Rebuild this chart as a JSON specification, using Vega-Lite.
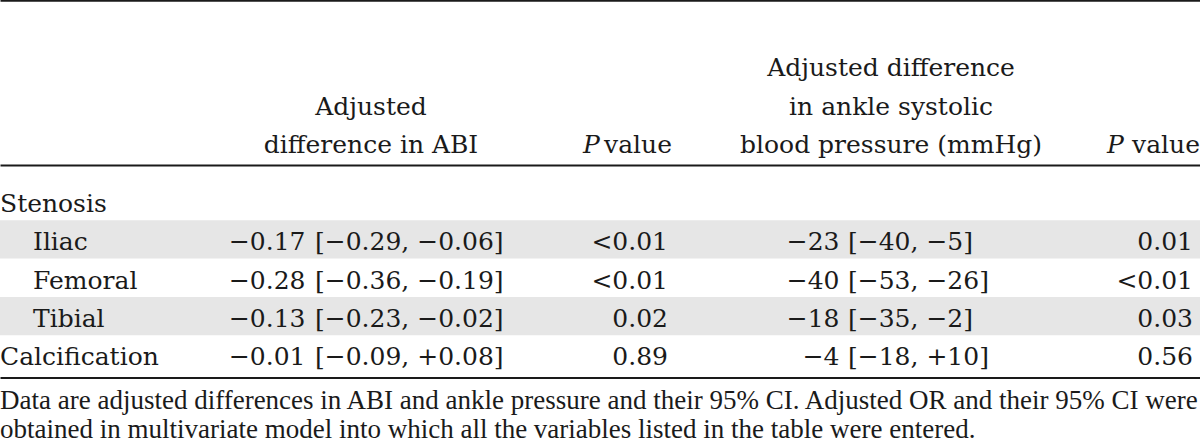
{
  "$schema": "https://vega.github.io/schema/vega-lite/v6.json",
  "padding": 0,
  "autosize": {"type": "pad"},
  "bounds": "flush",
  "spacing": 0,
  "background": "white",
  "config": {
    "view": {"stroke": null},
    "text": {"font": "DejaVu Serif", "fontSize": 25, "color": "#1a1a1a"}
  },
  "title": {
    "text": [
      "Data are adjusted differences in ABI and ankle pressure and their 95% CI. Adjusted OR and their 95% CI were",
      "obtained in multivariate model into which all the variables listed in the table were entered."
    ],
    "orient": "bottom",
    "anchor": "start",
    "frame": "bounds",
    "font": "Liberation Serif",
    "fontSize": 27,
    "fontWeight": "normal",
    "color": "#1a1a1a",
    "lineHeight": 29,
    "offset": 10
  },
  "datasets": {
    "header": [
      {"col": "abi", "line": 2, "text": "Adjusted"},
      {"col": "abi", "line": 3, "text": "difference in ABI"},
      {"col": "p_abi", "line": 3, "symbol": "P", "text": "value"},
      {"col": "asbp", "line": 1, "text": "Adjusted difference"},
      {"col": "asbp", "line": 2, "text": "in ankle systolic"},
      {"col": "asbp", "line": 3, "text": "blood pressure (mmHg)"},
      {"col": "p_asbp", "line": 3, "symbol": "P", "text": "value"}
    ],
    "table": [
      {"row": "Stenosis", "level": "group"},
      {"row": "Iliac", "level": "sub", "abi": "−0.17", "abi_ci": "[−0.29, −0.06]", "p_abi": "<0.01", "asbp": "−23", "asbp_ci": "[−40, −5]", "p_asbp": "0.01"},
      {"row": "Femoral", "level": "sub", "abi": "−0.28", "abi_ci": "[−0.36, −0.19]", "p_abi": "<0.01", "asbp": "−40", "asbp_ci": "[−53, −26]", "p_asbp": "<0.01"},
      {"row": "Tibial", "level": "sub", "abi": "−0.13", "abi_ci": "[−0.23, −0.02]", "p_abi": "0.02", "asbp": "−18", "asbp_ci": "[−35, −2]", "p_asbp": "0.03"},
      {"row": "Calcification", "level": "group", "abi": "−0.01", "abi_ci": "[−0.09, +0.08]", "p_abi": "0.89", "asbp": "−4", "asbp_ci": "[−18, +10]", "p_asbp": "0.56"}
    ]
  },
  "vconcat": [
    {
      "width": 1200,
      "height": 165,
      "data": {"name": "header"},
      "layer": [
        {
          "transform": [{"filter": "datum.col == 'abi' || datum.col == 'asbp'"}],
          "mark": {"type": "text", "align": "center", "baseline": "alphabetic"},
          "encoding": {
            "x": {"field": "col", "type": "nominal", "scale": {"type": "point", "domain": ["abi", "asbp"], "padding": 0.6538, "align": 0.5456},
                  "axis": {"orient": "top", "domain": true, "domainColor": "#1a1a1a", "domainWidth": 2.5, "labels": false, "ticks": false, "grid": false, "title": null}},
            "y": {"field": "line", "type": "ordinal", "scale": {"type": "point", "domain": [1, 2, 3], "range": [76, 153], "padding": 0}, "axis": null},
            "text": {"field": "text"}
          }
        },
        {
          "transform": [{"filter": "isValid(datum.symbol)"}],
          "mark": {"type": "text", "align": "left", "baseline": "alphabetic", "fontStyle": "italic"},
          "encoding": {
            "x": {"field": "col", "type": "nominal", "scale": {"type": "point", "domain": ["p_abi", "p_asbp"], "range": [583, 1107], "padding": 0}, "axis": null},
            "y": {"field": "line", "type": "ordinal", "scale": {"type": "point", "domain": [1, 2, 3], "range": [76, 153], "padding": 0}, "axis": null},
            "text": {"field": "symbol"}
          }
        },
        {
          "transform": [{"filter": "isValid(datum.symbol)"}],
          "mark": {"type": "text", "align": "right", "baseline": "alphabetic"},
          "encoding": {
            "x": {"field": "col", "type": "nominal", "scale": {"type": "point", "domain": ["p_abi", "p_asbp"], "padding": 0.6364, "align": 1},
                  "axis": {"orient": "bottom", "domain": true, "domainColor": "#1a1a1a", "domainWidth": 2, "labels": false, "ticks": false, "grid": false, "title": null}},
            "y": {"field": "line", "type": "ordinal", "scale": {"type": "point", "domain": [1, 2, 3], "range": [76, 153], "padding": 0}, "axis": null},
            "text": {"field": "text"}
          }
        }
      ],
      "resolve": {"scale": {"x": "independent"}, "axis": {"x": "independent"}}
    },
    {
      "width": 1200,
      "height": 212.5,
      "data": {"name": "table"},
      "layer": [
        {
          "transform": [{"filter": "datum.row == 'Iliac' || datum.row == 'Tibial'"}],
          "mark": {"type": "rect", "color": "#e6e6e6"},
          "encoding": {
            "y": {"field": "row", "type": "nominal", "scale": {"type": "band", "domain": ["Stenosis", "Iliac", "Femoral", "Tibial", "Calcification"], "range": [17, 208.5], "padding": 0}, "axis": null}
          }
        },
        {
          "mark": {"type": "text", "align": "left", "baseline": "alphabetic"},
          "encoding": {
            "x": {"field": "level", "type": "nominal", "scale": {"type": "point", "domain": ["group", "sub"], "range": [0, 33], "padding": 0}, "axis": null},
            "y": {"field": "row", "type": "nominal", "bandPosition": 0.785, "scale": {"type": "band", "domain": ["Stenosis", "Iliac", "Femoral", "Tibial", "Calcification"], "range": [17, 208.5], "padding": 0}, "axis": null},
            "text": {"field": "row"}
          }
        },
        {
          "transform": [{"fold": ["abi", "asbp"], "as": ["col", "value"]}, {"filter": "isValid(datum.value)"}],
          "mark": {"type": "text", "align": "right", "baseline": "alphabetic"},
          "encoding": {
            "x": {"field": "col", "type": "nominal", "scale": {"type": "point", "domain": ["abi", "asbp"], "range": [305.5, 839.5], "padding": 0}, "axis": null},
            "y": {"field": "row", "type": "nominal", "bandPosition": 0.785, "scale": {"type": "band", "domain": ["Stenosis", "Iliac", "Femoral", "Tibial", "Calcification"], "range": [17, 208.5], "padding": 0}, "axis": null},
            "text": {"field": "value"}
          }
        },
        {
          "transform": [{"fold": ["abi_ci", "asbp_ci"], "as": ["col", "value"]}, {"filter": "isValid(datum.value)"}],
          "mark": {"type": "text", "align": "left", "baseline": "alphabetic"},
          "encoding": {
            "x": {"field": "col", "type": "nominal", "scale": {"type": "point", "domain": ["abi_ci", "asbp_ci"], "padding": 0.6257, "align": 0.47226},
                  "axis": {"orient": "bottom", "domain": true, "domainColor": "#1a1a1a", "domainWidth": 2, "labels": false, "ticks": false, "grid": false, "title": null}},
            "y": {"field": "row", "type": "nominal", "bandPosition": 0.785, "scale": {"type": "band", "domain": ["Stenosis", "Iliac", "Femoral", "Tibial", "Calcification"], "range": [17, 208.5], "padding": 0}, "axis": null},
            "text": {"field": "value"}
          }
        },
        {
          "transform": [{"fold": ["p_abi", "p_asbp"], "as": ["col", "value"]}, {"filter": "isValid(datum.value)"}],
          "mark": {"type": "text", "align": "right", "baseline": "alphabetic"},
          "encoding": {
            "x": {"field": "col", "type": "nominal", "scale": {"type": "point", "domain": ["p_abi", "p_asbp"], "range": [668, 1193], "padding": 0}, "axis": null},
            "y": {"field": "row", "type": "nominal", "bandPosition": 0.785, "scale": {"type": "band", "domain": ["Stenosis", "Iliac", "Femoral", "Tibial", "Calcification"], "range": [17, 208.5], "padding": 0}, "axis": null},
            "text": {"field": "value"}
          }
        }
      ],
      "resolve": {"scale": {"x": "independent"}, "axis": {"x": "independent"}}
    }
  ]
}
